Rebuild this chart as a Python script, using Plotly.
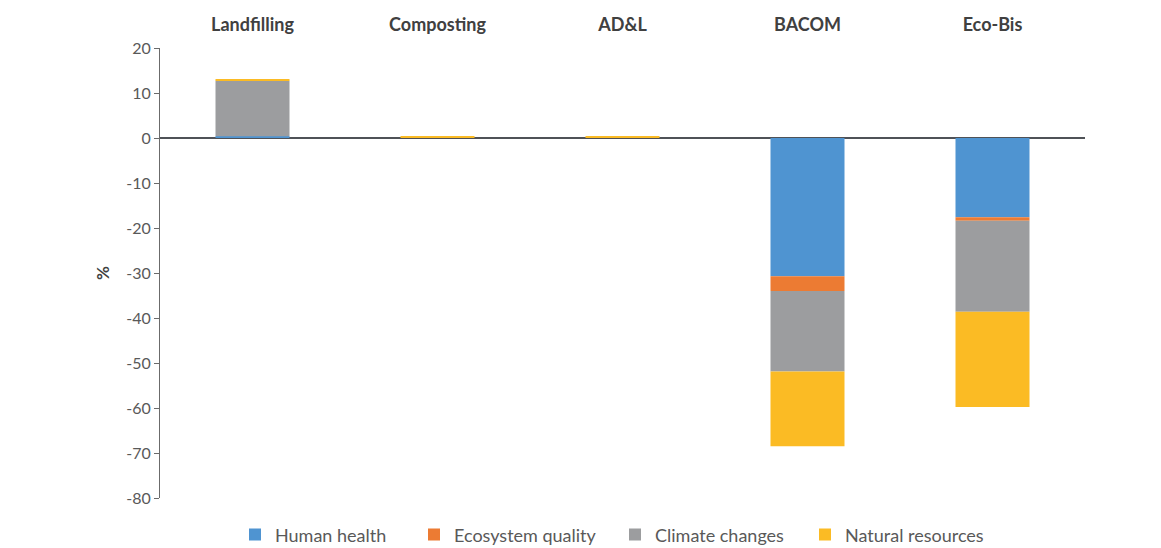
import plotly.graph_objects as go

# Scenario categories and impact contributions (%)
scenarios = ["Landfilling", "Composting", "AD&L", "BACOM", "Eco-Bis"]
human_health = [0.4, 0.0, 0.0, -30.7, -17.6]
ecosystem_quality = [0.0, 0.0, 0.0, -3.3, -0.8]
climate_changes = [12.3, 0.0, 0.0, -17.9, -20.2]
natural_resources = [0.2, 0.35, 0.35, -16.6, -21.2]

# Y-axis ticks, written with a plain hyphen for negatives
y_tick_values = [20, 10, 0, -10, -20, -30, -40, -50, -60, -70, -80]
y_tick_labels = ["20", "10", "0", "-10", "-20", "-30", "-40", "-50", "-60", "-70", "-80"]

series = [
    ("Human health", human_health, "#4f94d1"),
    ("Ecosystem quality", ecosystem_quality, "#ec7b33"),
    ("Climate changes", climate_changes, "#9c9d9f"),
    ("Natural resources", natural_resources, "#fbbb24"),
]

W, H = 1161, 548
# left edge (px) of each legend entry along the bottom row
legend_left_px = [235, 414, 615, 805]

font_family = "Lato, 'Open Sans', sans-serif"

fig = go.Figure()
legend_layouts = {}
for i, (name, vals, color) in enumerate(series):
    key = "legend" if i == 0 else f"legend{i + 1}"
    fig.add_trace(go.Bar(
        x=scenarios, y=vals, name=name,
        marker=dict(color=color, line=dict(width=0)),
        legend=key,
    ))
    legend_layouts[key] = dict(
        orientation="h",
        xref="container", x=legend_left_px[i] / W, xanchor="left",
        yref="container", y=0.024, yanchor="middle",
        font=dict(size=18, color="#595959", family=font_family),
        itemwidth=30, bgcolor="rgba(0,0,0,0)",
    )

fig.update_layout(
    barmode="relative",
    bargap=0.6,
    width=W, height=H,
    margin=dict(l=160, r=76, t=48, b=50, autoexpand=False),
    plot_bgcolor="white",
    paper_bgcolor="white",
    font=dict(family=font_family, size=15, color="#595959"),
    showlegend=True,
    xaxis=dict(
        side="top",
        showline=False, showgrid=False, ticks="",
        ticklabelstandoff=12,
        tickfont=dict(size=18, color="#404040", family=font_family, weight="bold"),
    ),
    yaxis=dict(
        range=[-80, 20],
        tickmode="array", tickvals=y_tick_values, ticktext=y_tick_labels,
        showgrid=False,
        showline=True, linecolor="#6b6b6b", linewidth=1,
        ticks="outside", ticklen=5, tickcolor="#6b6b6b",
        zeroline=True, zerolinecolor="#4f5257", zerolinewidth=1.5,
        tickfont=dict(size=16, color="#595959"),
        title=dict(text="<b>%</b>", font=dict(size=17, color="#404040"), standoff=12),
    ),
    **legend_layouts,
)

fig.write_html("out.html")
